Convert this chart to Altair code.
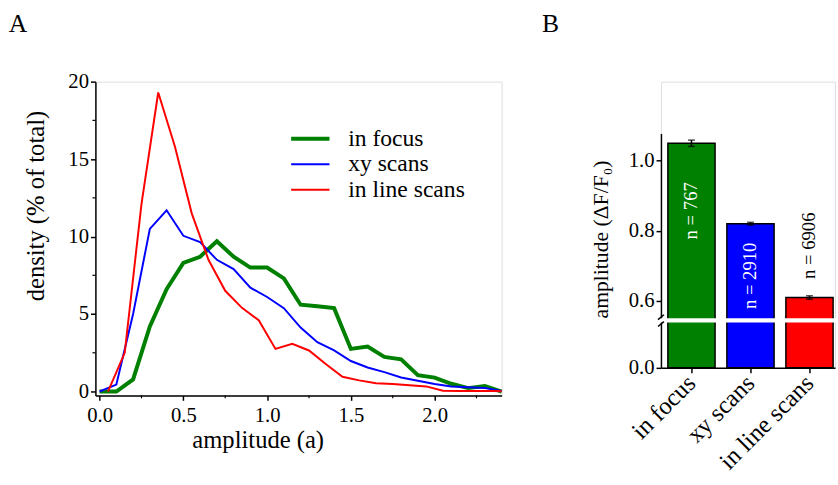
import altair as alt
import pandas as pd

FONT = "Liberation Serif"

# ---------------- Panel A data ----------------
amp_a = [0.0, 0.1, 0.2, 0.3, 0.4, 0.5, 0.6, 0.7, 0.8, 0.9, 1.0, 1.1, 1.2,
         1.3, 1.4, 1.5, 1.6, 1.7, 1.8, 1.9, 2.0, 2.1, 2.2, 2.3, 2.4]
in_focus = [0.0, 0.0, 0.78, 4.2, 6.6, 8.3, 8.7, 9.7, 8.7, 8.0, 8.0, 7.3, 5.6,
            5.5, 5.38, 2.75, 2.9, 2.23, 2.08, 1.05, 0.9, 0.5, 0.22, 0.36, 0.0]
xy_scans = [0.0, 0.45, 5.0, 10.5, 11.7, 10.05, 9.65, 8.5, 7.9, 6.7, 6.1, 5.38, 4.13,
            3.18, 2.65, 1.97, 1.55, 1.25, 0.91, 0.7, 0.49, 0.32, 0.28, 0.23, 0.04]
amp_b = [0.05, 0.15, 0.25, 0.35, 0.45, 0.55, 0.65, 0.75, 0.85, 0.95, 1.05, 1.15,
         1.25, 1.35, 1.45, 1.55, 1.65, 1.75, 1.85, 1.95, 2.05, 2.15, 2.25, 2.35, 2.4]
line_scans = [0.0, 2.5, 12.1, 19.3, 15.8, 11.5, 8.5, 6.5, 5.4, 4.6, 2.75, 3.08,
              2.65, 1.78, 0.95, 0.72, 0.54, 0.49, 0.41, 0.33, 0.05, 0.03, 0.03, 0.03, 0.02]

series_names = ["in focus", "xy scans", "in line scans"]
series_colors = ["#008000", "#0000ff", "#ff0000"]
series_widths = [4, 2, 2]

x_ticks = [0.0, 0.5, 1.0, 1.5, 2.0]
x_minor = [0.25, 0.75, 1.25, 1.75, 2.25]
y_ticks = [0, 5, 10, 15, 20]
y_minor = [2.5, 7.5, 12.5, 17.5]

# ---------------- Panel B data ----------------
bar_means = [1.05, 0.82, 0.609]
bar_errs = [0.009, 0.004, 0.005]
bar_n = ["n = 767", "n = 2910", "n = 6906"]
n_label_at = [0.857, 0.671, 0.757]
n_label_colors = ["white", "white", "black"]
b_ticks = [0.0, 0.6, 0.8, 1.0]
b_break = [0.13, 0.55]

# ---------------- Panel A ----------------
WA, HA = 413, 319
xs = alt.Scale(domain=[-0.025, 2.4], nice=False, zero=False)
ys = alt.Scale(domain=[-0.25, 20], nice=False, zero=False)

x_axis = alt.Axis(values=x_ticks, format=".1f", tickSize=5, tickWidth=1.5, tickColor="black",
                  domainWidth=1.5, domainColor="black", grid=False, labelFont=FONT,
                  labelFontSize=21, labelColor="black", labelPadding=5,
                  title="amplitude (a)", titleFont=FONT, titleFontSize=25,
                  titleFontWeight="normal", titleColor="black", titleX=165, titleY=45,
                  titleBaseline="middle")
y_axis = alt.Axis(values=y_ticks, format="d", tickSize=5, tickWidth=1.5, tickColor="black",
                  domainWidth=1.5, domainColor="black", grid=False, labelFont=FONT,
                  labelFontSize=21, labelColor="black", labelPadding=2,
                  title="density (% of total)", titleFont=FONT, titleFontSize=25,
                  titleFontWeight="normal", titleColor="black", titleX=-61, titleY=126,
                  titleAngle=270, titleBaseline="middle", titleAlign="center")

series_x = [amp_a, amp_a, amp_b]
series_y = [in_focus, xy_scans, line_scans]

layers_a = []
for i, name in enumerate(series_names):
    df = pd.DataFrame({"x": series_x[i], "y": series_y[i]})
    enc_x = alt.X("x:Q", scale=xs, axis=x_axis if i == 0 else alt.Axis(), title="amplitude (a)")
    enc_y = alt.Y("y:Q", scale=ys, axis=y_axis if i == 0 else alt.Axis(), title="density (% of total)")
    layers_a.append(
        alt.Chart(df).mark_line(color=series_colors[i], strokeWidth=series_widths[i],
                                strokeJoin="miter").encode(x=enc_x, y=enc_y)
    )

minor_x = alt.Chart(pd.DataFrame({"x": x_minor})).mark_rule(color="black", strokeWidth=1.2).encode(
    x=alt.X("x:Q", scale=xs, title="amplitude (a)"), y=alt.value(HA), y2=alt.value(HA + 3))
minor_y = alt.Chart(pd.DataFrame({"y": y_minor})).mark_rule(color="black", strokeWidth=1.2).encode(
    y=alt.Y("y:Q", scale=ys, title="density (% of total)"), x=alt.value(0), x2=alt.value(-3))

legend_layers = []
for i, name in enumerate(series_names):
    ly = 58 + 26 * i
    d = pd.DataFrame({"s": [name]})
    legend_layers.append(alt.Chart(d).mark_rule(color=series_colors[i], strokeWidth=series_widths[i]).encode(
        x=alt.value(199), x2=alt.value(238), y=alt.value(ly)))
    legend_layers.append(alt.Chart(d).mark_text(font=FONT, fontSize=24, align="left",
                                                baseline="middle", color="black").encode(
        x=alt.value(257), y=alt.value(ly), text="s:N"))

letter_a = alt.Chart(pd.DataFrame({"t": ["A"]})).mark_text(
    font=FONT, fontSize=26, align="left", baseline="alphabetic", color="black").encode(
    x=alt.value(-88), y=alt.value(-50), text="t:N")

panel_a = alt.layer(*layers_a, minor_x, minor_y, *legend_layers, letter_a).properties(
    width=WA, height=HA)

# ---------------- Panel B ----------------
WB, HB = 177, 291
bx = alt.Scale(domain=series_names, paddingInner=0.2, paddingOuter=0.075, align=0.78)
by = alt.Scale(domain=[0, b_break[0], b_break[1], 1.078], range=[HB, 245, 240.5, 52.7],
               nice=False, zero=False)
YT = "amplitude  (ΔF/F₀)"

bx_axis = alt.Axis(labelAngle=-45, labelAlign="right", labelBaseline="middle", labelFont=FONT,
                   labelFontSize=25, labelColor="black", labelPadding=6, tickSize=5,
                   tickWidth=1.5, tickColor="black", domainWidth=1.5, domainColor="black",
                   bandPosition=0.5, title=None, grid=False)
by_axis = alt.Axis(values=b_ticks, format=".1f", tickSize=5, tickWidth=1.5, tickColor="black",
                   domainWidth=1.5, domainColor="black", grid=False, labelFont=FONT,
                   labelFontSize=21, labelColor="black", labelPadding=2,
                   title=YT, titleFont=FONT, titleFontSize=22, titleFontWeight="normal",
                   titleColor="black", titleX=-61, titleY=160, titleAngle=270,
                   titleBaseline="middle", titleAlign="center")

df_b = pd.DataFrame({
    "cat": series_names,
    "mean": bar_means,
    "lo": [m - e for m, e in zip(bar_means, bar_errs)],
    "hi": [m + e for m, e in zip(bar_means, bar_errs)],
    "n": bar_n,
    "pos": n_label_at,
    "tc": n_label_colors,
})

X_B = alt.X("cat:N", scale=bx, sort=series_names, axis=bx_axis, title=None)

bars = alt.Chart(df_b).mark_bar(stroke="black", strokeWidth=1.5).encode(
    x=X_B,
    y=alt.Y("mean:Q", scale=by, axis=by_axis, title=YT),
    color=alt.Color("cat:N", scale=alt.Scale(domain=series_names, range=series_colors), legend=None),
)
err = alt.Chart(df_b).mark_rule(color="black", strokeWidth=1.5).encode(
    x=alt.X("cat:N", scale=bx, sort=series_names, title=None),
    y=alt.Y("lo:Q", scale=by, title=YT), y2="hi:Q")
cap_hi = alt.Chart(df_b).mark_tick(color="black", thickness=1.5, size=7).encode(
    x=alt.X("cat:N", scale=bx, sort=series_names, title=None),
    y=alt.Y("hi:Q", scale=by, title=YT))
cap_lo = alt.Chart(df_b).mark_tick(color="black", thickness=1.5, size=7).encode(
    x=alt.X("cat:N", scale=bx, sort=series_names, title=None),
    y=alt.Y("lo:Q", scale=by, title=YT))
nlab = alt.Chart(df_b).mark_text(font=FONT, fontSize=19, angle=270, align="center",
                                 baseline="middle").encode(
    x=alt.X("cat:N", scale=bx, sort=series_names, title=None),
    y=alt.Y("pos:Q", scale=by, title=YT),
    text="n:N",
    color=alt.Color("tc:N", scale=None))

gap = alt.Chart(pd.DataFrame({"lo": [b_break[0]], "hi": [b_break[1]]})).mark_rect(
    fill="white", stroke=None).encode(
    y=alt.Y("lo:Q", scale=by, title=YT), y2="hi:Q", x=alt.value(-3), x2=alt.value(WB + 2))

one = pd.DataFrame({"k": [1]})
slash1 = alt.Chart(one).mark_rule(color="black", strokeWidth=1.5).encode(
    x=alt.value(-3), x2=alt.value(3), y=alt.value(242), y2=alt.value(237))
slash2 = alt.Chart(one).mark_rule(color="black", strokeWidth=1.5).encode(
    x=alt.value(-3), x2=alt.value(3), y=alt.value(249), y2=alt.value(244))

letter_b = alt.Chart(pd.DataFrame({"t": ["B"]})).mark_text(
    font=FONT, fontSize=26, align="left", baseline="alphabetic", color="black").encode(
    x=alt.value(-121), y=alt.value(-50), text="t:N")

panel_b = alt.layer(bars, err, cap_hi, cap_lo, nlab, gap, slash1, slash2, letter_b).properties(
    width=WB, height=HB)

chart = alt.hconcat(panel_a, panel_b, spacing=31).properties(
    padding={"left": 8, "top": 7, "right": 0, "bottom": 0}
).configure_view(stroke=None).configure(font=FONT)

chart.save("out.html", embed_options={"renderer": "svg", "actions": False})
